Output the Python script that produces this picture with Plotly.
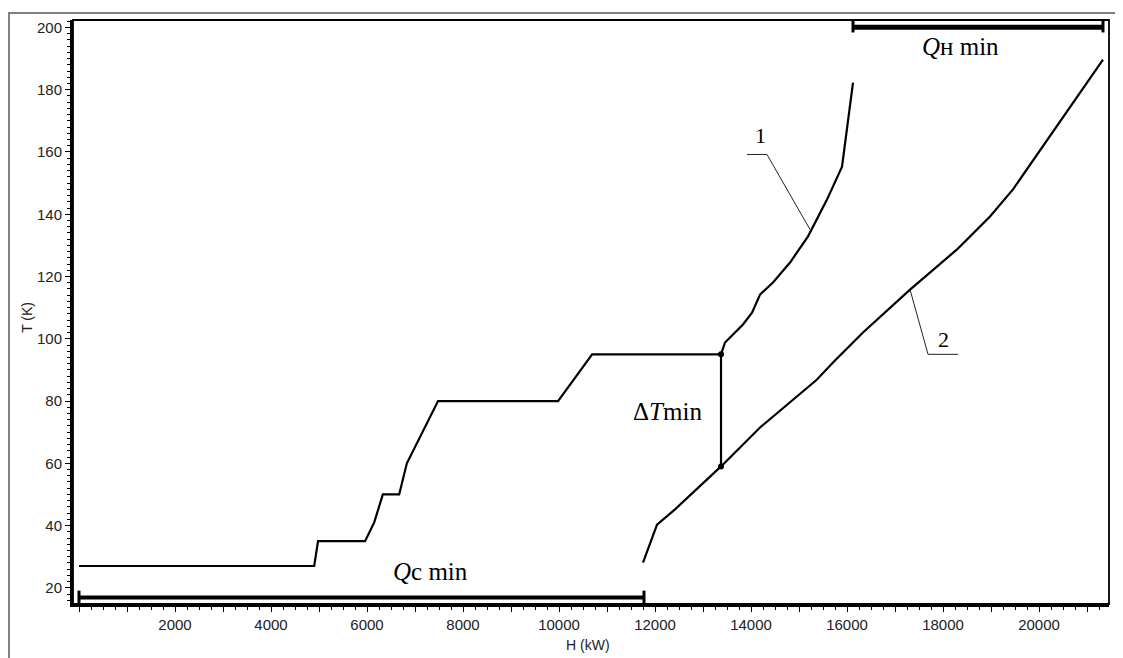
import plotly.graph_objects as go

# ---- data ----
# composite curve 1
h1 = [0, 4900, 4980, 5960, 6150, 6330, 6670, 6830, 7480, 9980, 10690, 13375,
      13458, 13833, 14021, 14188, 14458, 14813, 15188, 15583, 15896, 16125]
t1 = [27, 27, 35, 35, 41, 50, 50, 60, 80, 80, 95, 95,
      98.8, 104.6, 108.4, 114.2, 118.1, 124.5, 132.9, 144.7, 155.3, 182.3]
# composite curve 2
h2 = [11750, 12042, 12417, 13375, 14188, 14875, 15375, 15708, 16333, 17313,
      18292, 18979, 19458, 21333]
t2 = [28.1, 40.3, 45.2, 59, 71.5, 80.5, 86.9, 92.4, 102.0, 115.8,
      128.7, 139.3, 148.0, 189.7]
# pinch (delta T min)
pinch_h = [13375, 13375]
pinch_t = [95, 59]
# minimum utilities
qc_min = [0, 11770]
qh_min = [16125, 21333]

x_tickvals = list(range(0, 22000, 1000))
x_ticktext = [str(v) if (v % 2000 == 0 and v > 0) else "" for v in x_tickvals]
y_tickvals = list(range(20, 201, 20))
y_ticktext = [str(v) for v in y_tickvals]

BLACK = "#000000"
fig = go.Figure()

def line(x, y, w=2.2, color=BLACK, **kw):
    fig.add_trace(go.Scatter(x=x, y=y, mode="lines", line=dict(color=color, width=w),
                             showlegend=False, hoverinfo="skip", cliponaxis=False, **kw))

line(h1, t1)
line(h2, t2)
fig.add_trace(go.Scatter(x=pinch_h, y=pinch_t, mode="lines+markers",
                         line=dict(color=BLACK, width=2.2),
                         marker=dict(color=BLACK, size=6, symbol="circle"),
                         showlegend=False, hoverinfo="skip", cliponaxis=False))

# Qc min bar
line(qc_min, [16.9, 16.9], w=4)
line([qc_min[0], qc_min[0]], [19.1, 14.8], w=3)
line([qc_min[1], qc_min[1]], [19.1, 14.8], w=3)
# Qh min bar
line(qh_min, [200.1, 200.1], w=5)
line([qh_min[0], qh_min[0]], [202.3, 198.4], w=3)
line([qh_min[1], qh_min[1]], [202.3, 198.4], w=3)

# leader lines
line([13917, 14333, 15229], [159.2, 159.2, 135.1], w=1, color="#222")
line([17313, 17688, 18313], [115.8, 95.0, 95.0], w=1, color="#222")

serif = "Liberation Serif, Times New Roman, serif"
ann = [
    dict(x=18354, y=193.9, text="<i>Q</i>н min", font=dict(family=serif, size=25, color=BLACK)),
    dict(x=7313, y=25.2, text="<i>Q</i>с min", font=dict(family=serif, size=25, color=BLACK)),
    dict(x=12250, y=76.6, text="Δ<i>T</i>min", font=dict(family=serif, size=25, color=BLACK)),
    dict(x=14188, y=165.3, text="1", font=dict(family=serif, size=22, color=BLACK)),
    dict(x=18000, y=99.8, text="2", font=dict(family=serif, size=22, color=BLACK)),
]
for a in ann:
    fig.add_annotation(xref="x", yref="y", showarrow=False, xanchor="center", yanchor="middle", **a)

sans = "Liberation Sans, Arial, sans-serif"
fig.add_annotation(xref="paper", yref="paper", x=0.497, y=-0.070, text="H (kW)",
                   showarrow=False, xanchor="center", yanchor="middle",
                   font=dict(family=sans, size=14, color="#222"))
fig.add_annotation(xref="paper", yref="paper", x=-0.0444, y=0.490, text="T (K)",
                   showarrow=False, xanchor="center", yanchor="middle", textangle=-90,
                   font=dict(family=sans, size=14, color="#222"))

# plot frame and outer border
fig.add_shape(type="rect", xref="paper", yref="paper", x0=0, y0=0, x1=1, y1=1,
              line=dict(color=BLACK, width=1.8), layer="above")
fig.add_shape(type="rect", xref="paper", yref="paper", x0=-0.0618, y0=-0.2, x1=1.2, y1=1.012,
              line=dict(color="#808080", width=2), layer="above")

# the page body adds an 8 px offset, so the figure is 8 px smaller
fig.update_layout(
    width=1115, height=650,
    margin=dict(l=65, r=14, t=12, b=54),
    paper_bgcolor="white", plot_bgcolor="white",
    showlegend=False,
    xaxis=dict(range=[-125, 21458], showgrid=False, zeroline=False,
               showline=True, linecolor=BLACK, linewidth=2.5,
               tickmode="array", tickvals=x_tickvals, ticktext=x_ticktext,
               ticks="outside", ticklen=5, tickwidth=1, tickcolor=BLACK,
               tickfont=dict(family=sans, size=15, color="#222"),
               minor=dict(dtick=250, tick0=0, ticks="outside", ticklen=3, tickcolor=BLACK, showgrid=False)),
    yaxis=dict(range=[14.8, 202.4], showgrid=False, zeroline=False,
               showline=True, linecolor=BLACK, linewidth=3,
               tickmode="array", tickvals=y_tickvals, ticktext=y_ticktext,
               ticks="outside", ticklen=5, tickwidth=1, tickcolor=BLACK,
               tickfont=dict(family=sans, size=15, color="#222"),
               minor=dict(dtick=2, tick0=0, ticks="outside", ticklen=3, tickcolor=BLACK, showgrid=False)),
)

fig.write_html("out.html")
